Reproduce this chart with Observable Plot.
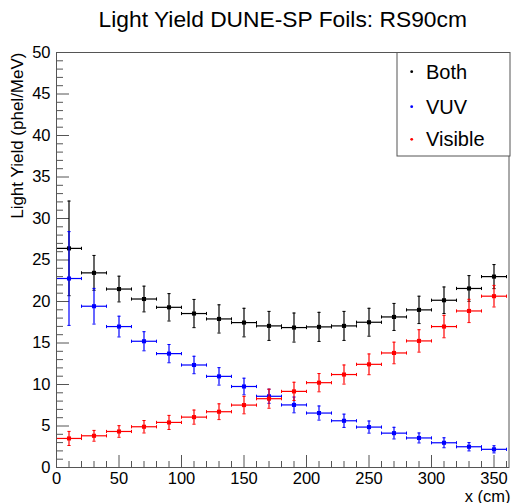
<!DOCTYPE html>
<html><head><meta charset="utf-8">
<script src="https://cdn.jsdelivr.net/npm/d3@7"></script>
<script src="https://cdn.jsdelivr.net/npm/@observablehq/plot@0.6"></script>
<style>body{margin:0;background:#fff;} svg{display:block;}</style>
</head><body><div id="chart"></div>
<script>
// ---- data ----
const titleText = "Light Yield DUNE-SP Foils: RS90cm";
const yTitle = "Light Yield (phel/MeV)";
const xTitle = "x (cm)";
const xCenters = [10,30,50,70,90,110,130,150,170,190,210,230,250,270,290,310,330,350];
const binHalfWidth = [10,10,10,10,10,10,10,10,10,10,10,10,10,10,10,10,10,10];
const seriesNames = ["Both","VUV","Visible"];
const seriesColors = ["#000000","#0000ff","#ff0000"];
const bothY   = [26.4,23.45,21.5,20.3,19.3,18.55,17.9,17.46,17.06,16.86,16.94,17.06,17.5,18.14,18.99,20.15,21.57,23.0];
const bothErr = [5.7,2.1,1.55,1.55,1.65,1.7,1.7,1.72,1.75,1.75,1.75,1.75,1.68,1.63,1.65,1.6,1.55,1.45];
const vuvY    = [22.77,19.43,16.98,15.21,13.72,12.35,10.98,9.76,8.58,7.54,6.56,5.63,4.87,4.14,3.56,2.98,2.5,2.19];
const vuvErr  = [5.65,2.15,1.25,1.15,1.1,1.05,1.05,1.0,0.85,0.95,0.85,0.8,0.73,0.7,0.6,0.6,0.5,0.43];
const visY    = [3.5,3.82,4.34,4.91,5.43,6.07,6.72,7.52,8.29,9.17,10.22,11.2,12.43,13.8,15.25,16.98,18.86,20.64];
const visErr  = [0.85,0.65,0.7,0.75,0.85,0.85,0.95,1.05,1.15,1.1,1.1,1.15,1.25,1.3,1.35,1.35,1.4,1.3];
const xMajor = [0,50,100,150,200,250,300,350];
const xMinor = [10,20,30,40,60,70,80,90,110,120,130,140,160,170,180,190,210,220,230,240,260,270,280,290,310,320,330,340,360];
const yMajor = [0,5,10,15,20,25,30,35,40,45,50];
const yMinor = [1,2,3,4,6,7,8,9,11,12,13,14,16,17,18,19,21,22,23,24,26,27,28,29,31,32,33,34,36,37,38,39,41,42,43,44,46,47,48,49];

// ---- build table ----
const seriesVals = [bothY, vuvY, visY];
const seriesErrs = [bothErr, vuvErr, visErr];
const rows = seriesNames.flatMap((name, k) => xCenters.map((x, i) => ({
  series: name, x, y: seriesVals[k][i],
  x1: x - binHalfWidth[i], x2: x + binHalfWidth[i],
  y1: seriesVals[k][i] - seriesErrs[k][i], y2: seriesVals[k][i] + seriesErrs[k][i]
})));

const capH = {draw(ctx, size){const r = Math.sqrt(size/Math.PI); ctx.moveTo(-r,0); ctx.lineTo(r,0);}};
const capV = {draw(ctx, size){const r = Math.sqrt(size/Math.PI); ctx.moveTo(0,-r); ctx.lineTo(0,r);}};

const W = 511, H = 503, mL = 56, mR = 2.5, mT = 52, mB = 36;
const fw = W - mL - mR, fh = H - mT - mB;
const axisColor = "#555";

const seriesMarks = seriesNames.flatMap(name => {
  const d = rows.filter(r => r.series === name);
  return [
    Plot.ruleY(d, {y: "y", x1: "x1", x2: "x2", stroke: "series", strokeWidth: 1.2}),
    Plot.ruleX(d, {x: "x", y1: "y1", y2: "y2", stroke: "series", strokeWidth: 1.2}),
    Plot.dot(d, {x: "x", y: "y1", symbol: capH, r: 1.6, stroke: "series", strokeWidth: 1, fill: "none"}),
    Plot.dot(d, {x: "x", y: "y2", symbol: capH, r: 1.6, stroke: "series", strokeWidth: 1, fill: "none"}),
    Plot.dot(d, {x: "x1", y: "y", symbol: capV, r: 1.6, stroke: "series", strokeWidth: 1, fill: "none"}),
    Plot.dot(d, {x: "x2", y: "y", symbol: capV, r: 1.6, stroke: "series", strokeWidth: 1, fill: "none"}),
    Plot.dot(d, {x: "x", y: "y", symbol: "square", r: 2.3, fill: "series", stroke: "none"})
  ];
});

const svg = Plot.plot({
  width: W, height: H,
  marginLeft: mL, marginRight: mR, marginTop: mT, marginBottom: mB,
  style: {fontFamily: "'Liberation Sans', Arial, sans-serif", fontSize: "16.5px", background: "#fff", color: "#000", overflow: "visible"},
  x: {domain: [0, 362]},
  y: {domain: [0, 50]},
  color: {domain: seriesNames, range: seriesColors},
  marks: [
    Plot.tickY(yMajor, {y: d => d, insetRight: fw - 13, stroke: axisColor}),
    Plot.tickY(yMinor, {y: d => d, insetRight: fw - 7, stroke: axisColor}),
    Plot.tickX(xMajor, {x: d => d, insetTop: fh - 12, stroke: axisColor}),
    Plot.tickX(xMinor, {x: d => d, insetTop: fh - 6, stroke: axisColor}),
    Plot.axisY(yMajor, {tickSize: 0, tickPadding: 6, label: null, fontSize: 16.5}),
    Plot.axisX(xMajor, {tickSize: 0, tickPadding: 5, label: null, fontSize: 16.5}),
    ...seriesMarks,
    Plot.frame({stroke: axisColor}),
    Plot.text([titleText], {frameAnchor: "top", text: d => d, lineAnchor: "bottom", dy: -25.3, fontSize: 22.8}),
    Plot.text([yTitle], {frameAnchor: "top-left", text: d => d, rotate: -90, textAnchor: "end", lineAnchor: "bottom", dx: -33.5, fontSize: 17}),
    Plot.text([xTitle], {frameAnchor: "bottom-right", text: d => d, textAnchor: "end", lineAnchor: "bottom", dx: 1.5, dy: 34, fontSize: 16.5})
  ]
});

// legend
const lg = d3.select(svg).append("g").attr("text-anchor", "start");
lg.append("rect").attr("x", 397).attr("y", 52.5).attr("width", 113).attr("height", 103.5)
  .attr("fill", "#fff").attr("stroke", axisColor).attr("stroke-width", 1);
const legendRows = [71.7, 106.7, 139.3];
seriesNames.forEach((name, i) => {
  lg.append("circle").attr("cx", 411.7).attr("cy", legendRows[i]).attr("r", 1.4).attr("fill", seriesColors[i]);
  lg.append("text").attr("x", 426).attr("y", legendRows[i]).attr("dy", "0.35em")
    .attr("text-anchor", "start").attr("font-size", 20).attr("fill", "#000").text(name);
});
document.getElementById("chart").appendChild(svg);
</script>
</body></html>
